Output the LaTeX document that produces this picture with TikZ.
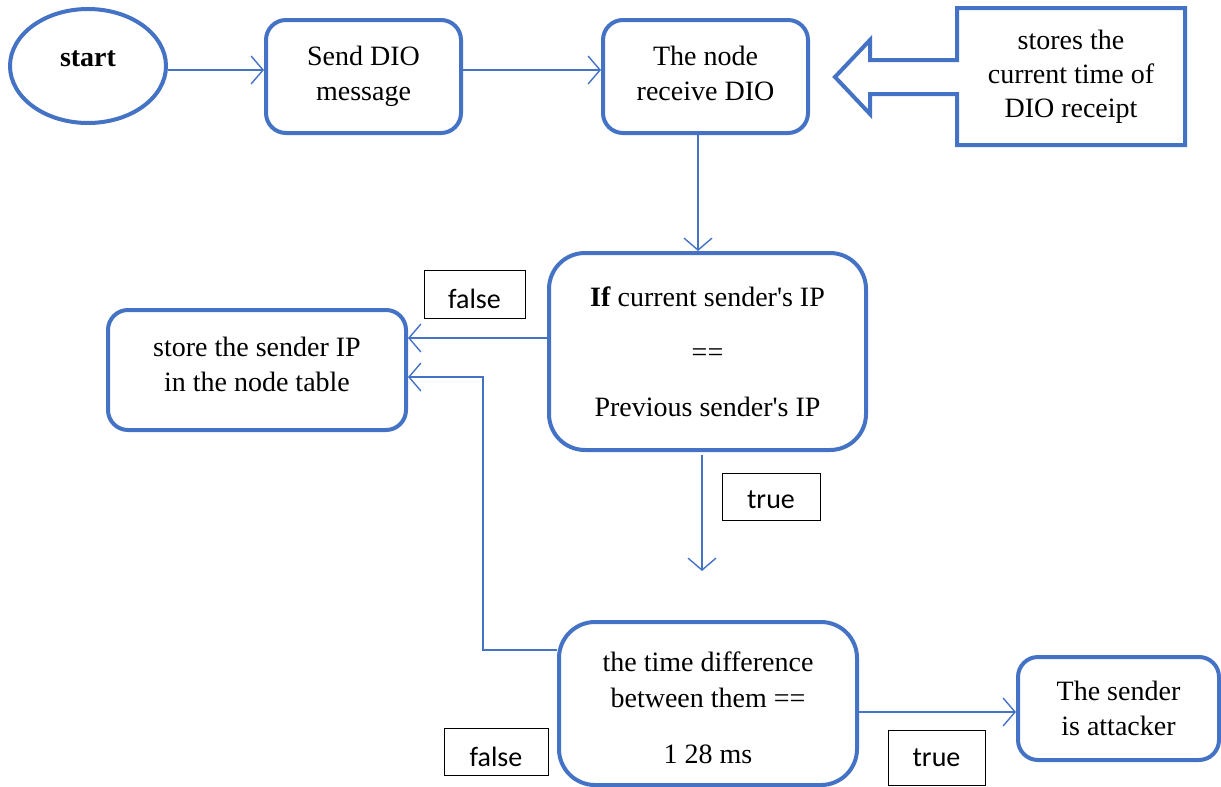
\documentclass[tikz,border=0pt]{standalone}
\usepackage{fontspec}
\setmainfont{Liberation Serif}
\newfontfamily\tagfont{Carlito}
\usetikzlibrary{arrows.meta,shapes.geometric}
\definecolor{flowblue}{RGB}{68,114,196}
\newcommand{\apos}{\textquotesingle}
% invisible struts that push a node's text up (extra depth) or down (extra height)
\newcommand{\lift}[1]{\rule[-#1]{0pt}{#1}}
\newcommand{\sink}[1]{\rule{0pt}{#1}}

\begin{document}
\begin{tikzpicture}[x=1pt,y=-1pt,
  box/.style={draw=flowblue, line width=4pt, rounded corners=20pt, align=center,
    font=\fontsize{28}{35}\selectfont, inner sep=0pt},
  bigbox/.style={box, rounded corners=36pt},
  link/.style={draw=flowblue, line width=1.4pt,
    -{Straight Barb[length=12pt,width=28pt,line width=1.4pt]}},
  tag/.style={draw=black, line width=1pt, font=\tagfont\fontsize{28}{30}\selectfont,
    inner sep=0pt}
]
\useasboundingbox (0,0) rectangle (1221,787);

% main flow
\node[draw=flowblue, line width=4pt, ellipse, minimum width=156pt, minimum height=114pt,
  inner sep=0pt, font=\fontsize{28}{35}\selectfont\bfseries] (start) at (88,66)
  {start\lift{14pt}};
\node[box, minimum width=195pt, minimum height=113pt] (send) at (363.5,76.5) {Send DIO\\message};
\node[box, minimum width=205pt, minimum height=113pt] (receive) at (705.5,76.5)
  {The node\\receive DIO\lift{7pt}};

% callout arrow pointing at the receive step
\draw[flowblue, line width=4pt, line join=miter]
  (957,60) -- (870,60) -- (870,40) -- (835,77) -- (870,114) -- (870,94) -- (957,94)
  -- (957,145) -- (1185,145) -- (1185,8) -- (957,8) -- cycle;
\node[align=center, font=\fontsize{28}{34}\selectfont, inner sep=0pt] (note) at (1071,77)
  {stores the\\current time of\\DIO receipt};

% decisions and outcomes
\node[bigbox, minimum width=317pt, minimum height=197pt] (iff) at (707.5,351.5)
  {\textbf{If} current sender\apos s IP\\[20pt]==\\[20pt]Previous sender\apos s IP};
\node[box, minimum width=298pt, minimum height=120pt] (store) at (257,370)
  {store the sender IP\\in the node table\lift{11pt}};
\node[bigbox, minimum width=298pt, minimum height=163pt,
  font=\fontsize{28}{36}\selectfont] (time) at (708,703.5)
  {\sink{29pt}the time difference\\between them ==\\[20pt]1 28 ms};
\node[box, minimum width=201pt, minimum height=103pt] (attacker) at (1118.5,708.5)
  {The sender\\is attacker};

% branch tags
\node[tag, minimum width=101pt, minimum height=48pt] (f1) at (474.5,294) {\sink{29pt}false};
\node[tag, minimum width=98pt, minimum height=47pt] (t1) at (771,496.5) {\sink{24pt}true};
\node[tag, minimum width=104pt, minimum height=47pt] (f2) at (496,751.5) {\sink{30pt}false};
\node[tag, minimum width=97pt, minimum height=55pt] (t2) at (936.5,757.5) {true};

% connectors
\coordinate (ay) at (0,70);
\coordinate (fy) at (0,338);
\coordinate (ly) at (0,650);
\coordinate (lx) at (483,377);
\coordinate (ty) at (0,712);
\coordinate (d1) at (702,455);
\coordinate (d2) at (702,571);

\draw[link] (start.east |- ay) -- (send.west |- ay);
\draw[link] (send.east |- ay) -- (receive.west |- ay);
\draw[link] ([xshift=-7.5pt]receive.south) -- ([xshift=-7.5pt]receive.south |- iff.north);
\draw[link] (iff.west |- fy) -- (store.east |- fy);
\draw[link] (d1) -- (d2);
\draw[link] (time.west |- ly) -| (lx) -- (store.east |- lx);
\draw[link] (time.east |- ty) -- (attacker.west |- ty);
\end{tikzpicture}
\end{document}
